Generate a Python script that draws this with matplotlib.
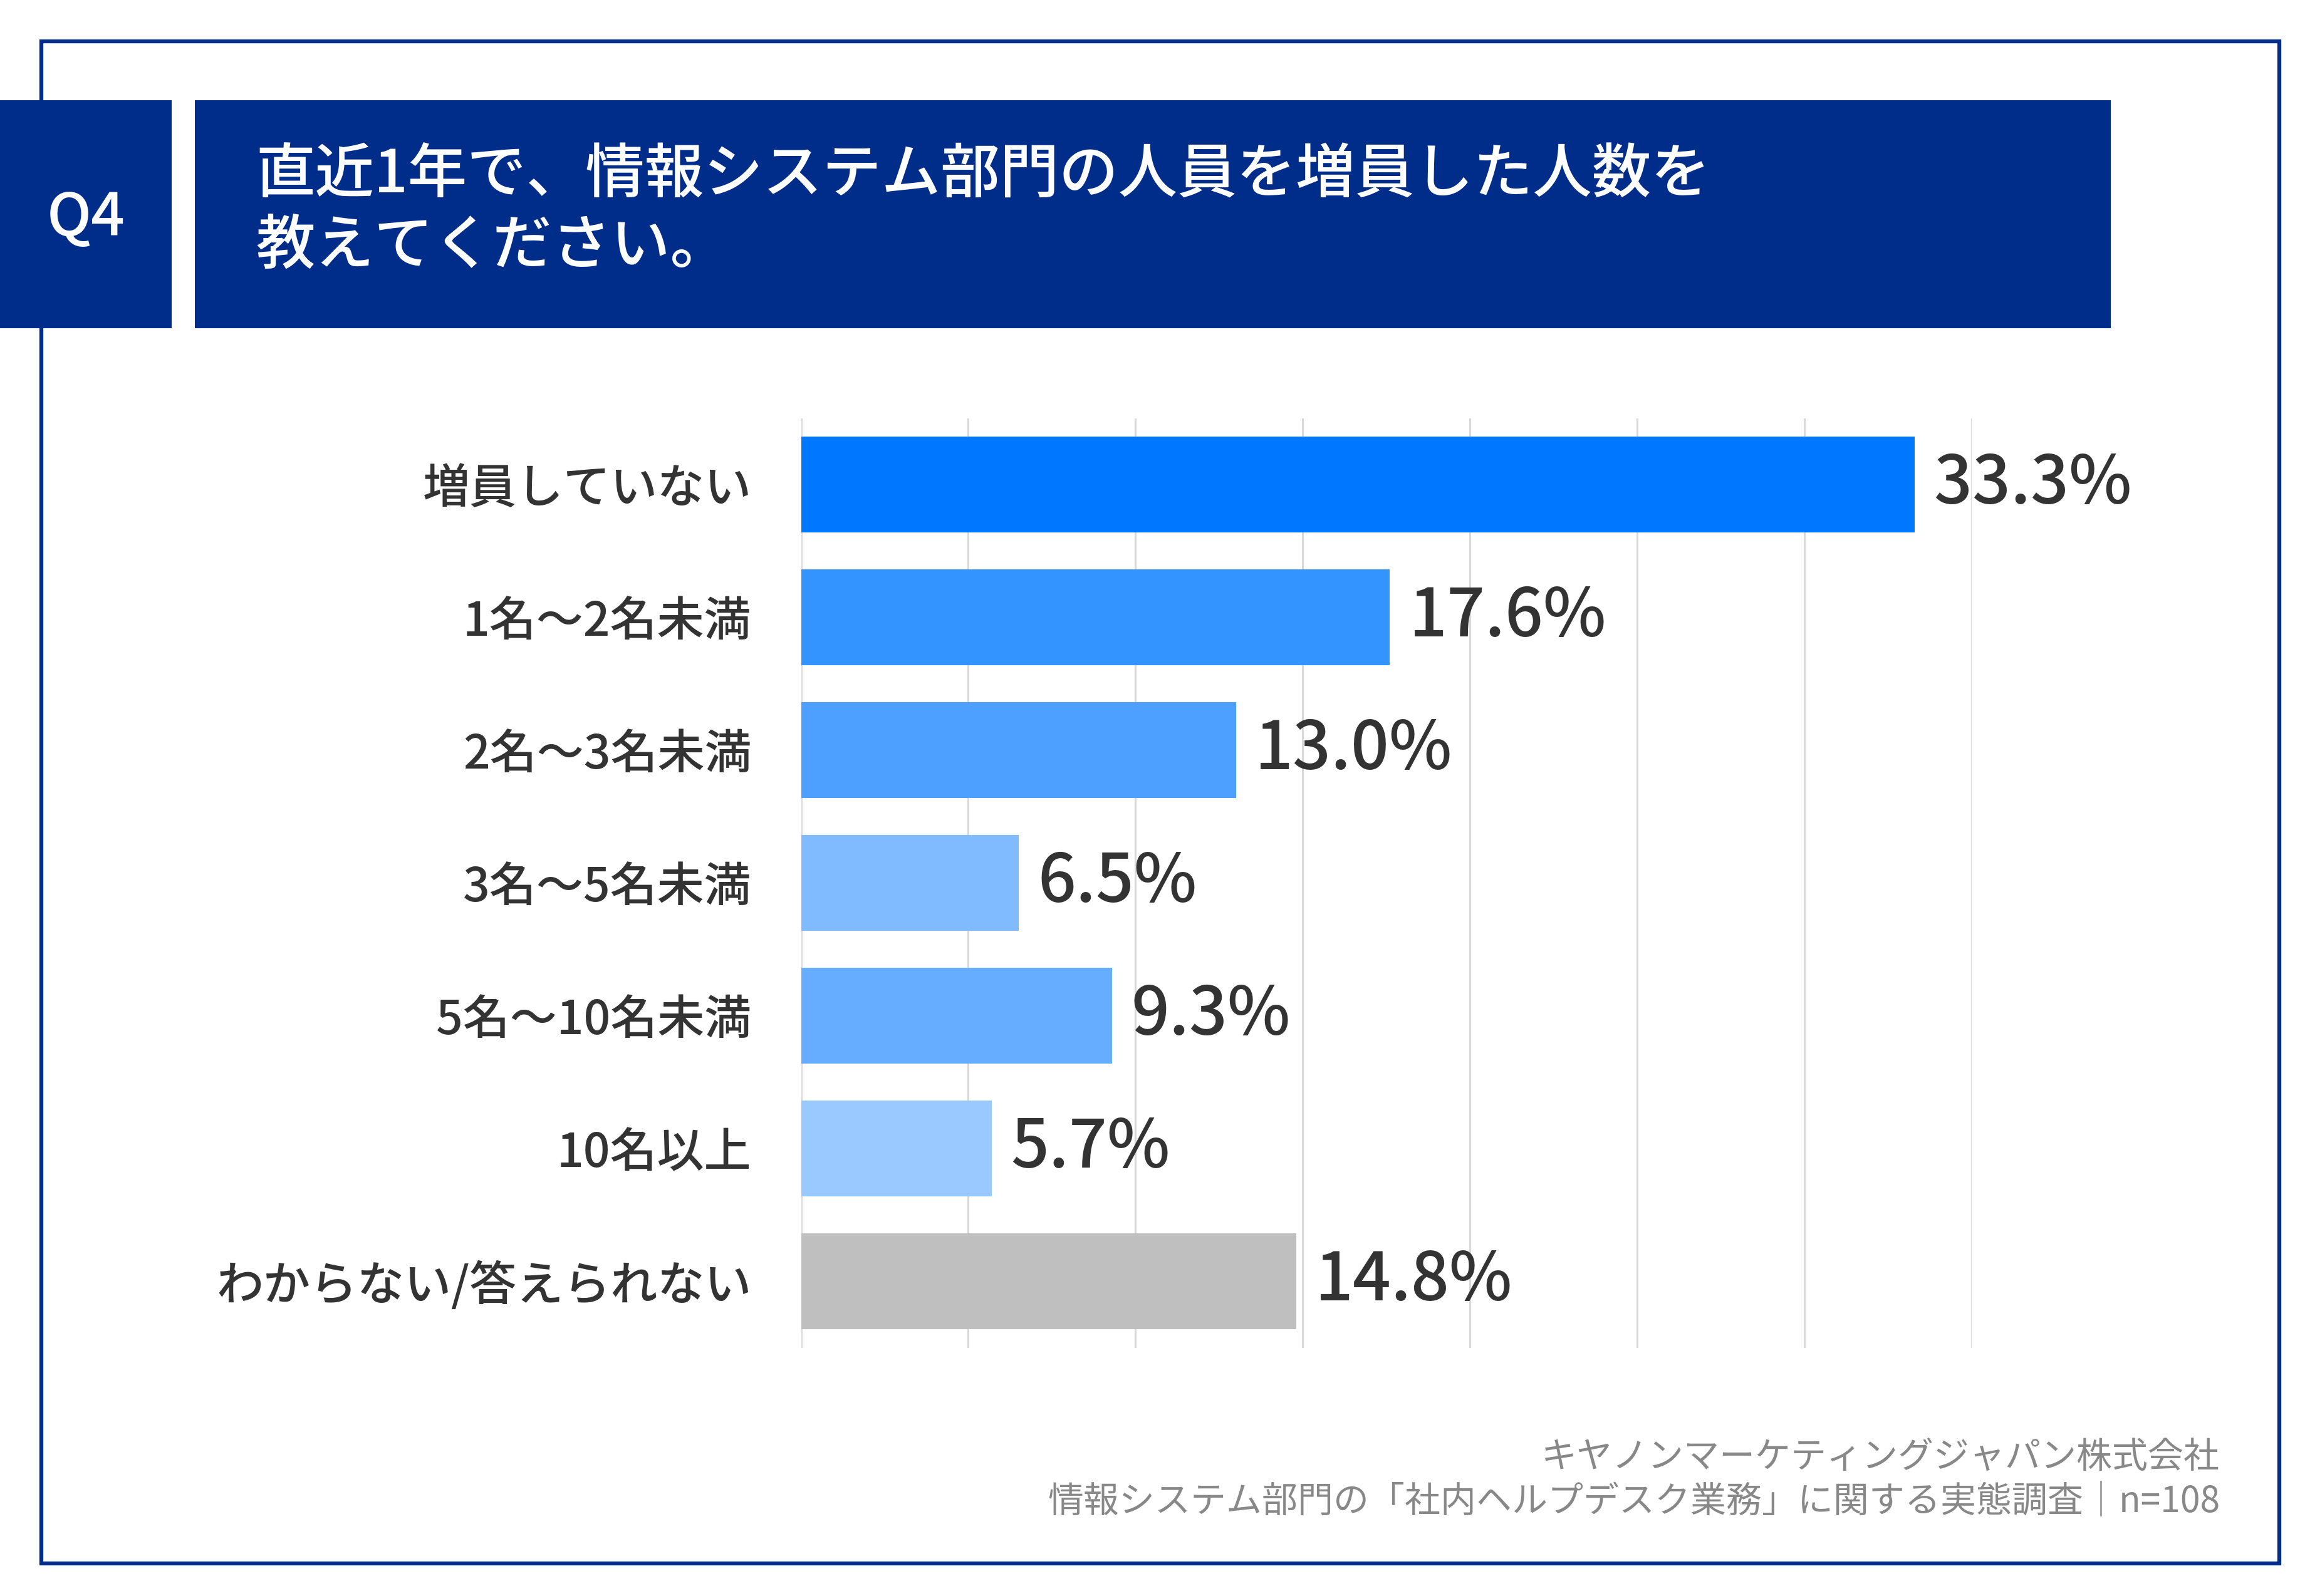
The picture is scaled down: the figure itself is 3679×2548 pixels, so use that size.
import matplotlib
matplotlib.use("Agg")
import matplotlib.pyplot as plt
from matplotlib.patches import Rectangle

plt.rcParams['font.family'] = ['Noto Sans CJK JP', 'DejaVu Sans']

categories = ["増員していない", "1名～2名未満", "2名～3名未満", "3名～5名未満",
              "5名～10名未満", "10名以上", "わからない/答えられない"]
values = [33.3, 17.6, 13.0, 6.5, 9.3, 5.7, 14.8]
bar_colors = ["#0077FF", "#3393FF", "#4DA0FF", "#80BBFF", "#66ADFF", "#99C9FF", "#BFBFBF"]
xticks = [0, 5, 10, 15, 20, 25, 30, 35]

question = "直近1年で、情報システム部門の人員を増員した人数を\n教えてください。"
qlabel = "Q4"
footer1 = "キヤノンマーケティングジャパン株式会社"
footer2 = "情報システム部門の「社内ヘルプデスク業務」に関する実態調査｜n=108"

navy = "#002D8A"

fig = plt.figure(figsize=(36.8, 25.48), dpi=100)
W, H = 1560.0, 1080.0

def fx(x):
    return x / W

def fy(y):
    return 1 - y / H

# outer border
fig.patches.append(Rectangle((fx(28), fy(1058)), fx(1542) - fx(28), fy(28) - fy(1058),
                             transform=fig.transFigure, fill=False, edgecolor=navy,
                             linewidth=4.5, zorder=0))
# Q box
fig.patches.append(Rectangle((fx(0), fy(222)), fx(116), fy(68) - fy(222),
                             transform=fig.transFigure, facecolor=navy, edgecolor='none', zorder=1))
# title box
fig.patches.append(Rectangle((fx(132), fy(222)), fx(1428) - fx(132), fy(68) - fy(222),
                             transform=fig.transFigure, facecolor=navy, edgecolor='none', zorder=1))

fig.text(fx(58), fy(148), qlabel, color='white', fontsize=68, fontweight='medium',
         ha='center', va='center', zorder=2)
fig.text(fx(173), fy(143), question, color='white', fontsize=68, fontweight='medium',
         ha='left', va='center', linespacing=1.22, zorder=2)

ax = fig.add_axes([fx(542), fy(912), fx(1334) - fx(542), fy(283) - fy(912)])
y = list(range(len(categories)))
ax.barh(y, values, height=0.72, color=bar_colors, zorder=3)
ax.set_xlim(0, 35)
ax.set_ylim(6.5, -0.5)
ax.set_xticks(xticks)
ax.xaxis.grid(True, color='#D9D9D9', linewidth=2.2, zorder=0)
ax.tick_params(axis='x', length=0, labelbottom=False)
ax.tick_params(axis='y', length=0, pad=57, labelcolor='#333333')
ax.set_yticks(y)
ax.set_yticklabels(categories, fontsize=54, fontweight='medium')
for s in ax.spines.values():
    s.set_visible(False)
ax.set_axisbelow(True)

for yi, v in zip(y, values):
    ax.annotate(f"{v:.1f}%", xy=(v, yi), xytext=(22, 0), textcoords='offset points',
                ha='left', va='center', fontsize=77, fontweight='medium',
                color='#333333', zorder=4)

fig.text(fx(1502), fy(986), footer1, color='#888888', fontsize=41, ha='right', va='center')
fig.text(fx(1502), fy(1016), footer2, color='#888888', fontsize=41, ha='right', va='center')

fig.savefig("out.png", dpi=100, facecolor='white')
